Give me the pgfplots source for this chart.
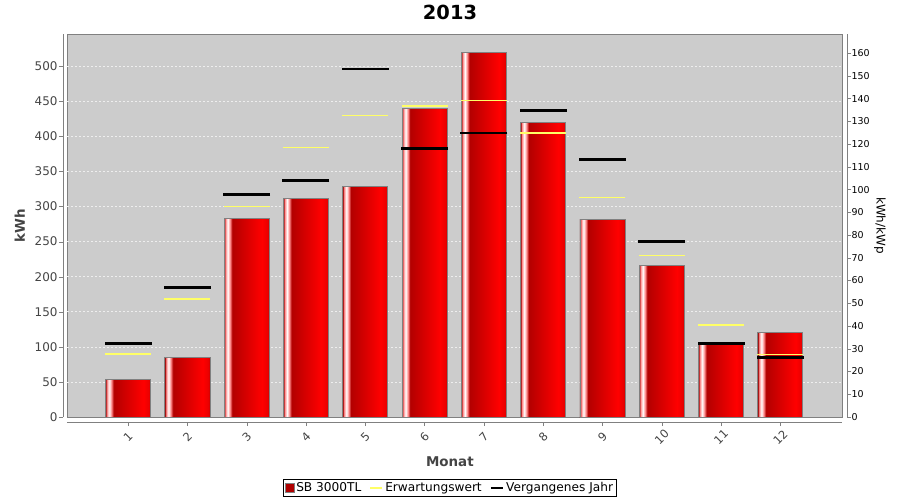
\documentclass[border=0pt]{standalone}
\usepackage{fontspec}
\setmainfont{DejaVu Sans}
\usepackage{pgfplots}
\pgfplotsset{compat=1.18}

\definecolor{plotbg}{RGB}{204,204,204}
\definecolor{framegray}{RGB}{128,128,128}
\definecolor{labelgray}{RGB}{68,68,68}
\definecolor{gridline}{RGB}{238,238,238}
\definecolor{barred}{RGB}{176,0,0}
\definecolor{expyellow}{RGB}{255,255,102}

% the visible part of a tikz shading is the middle 25bp..75bp
\pgfdeclarehorizontalshading{barshade}{100bp}{%
  color(0bp)=(red!60!black);
  color(25bp)=(red!60!black);
  color(26.5bp)=(red!45!white);
  color(29bp)=(white);
  color(31.5bp)=(red!45!white);
  color(34bp)=(red!70!black);
  color(67bp)=(red);
  color(73bp)=(red!92!black);
  color(75bp)=(red!80!black);
  color(100bp)=(red!80!black)}

\pgfplotsset{
  onebar/.style={ybar, bar width=0.76, draw=framegray, line width=0.8bp, shading=barshade, forget plot},
}

\begin{document}
\begin{tikzpicture}
\begin{axis}[
    at={(0,0)}, anchor=south west,
    scale only axis,
    width=775bp, height=383bp,
    xmin=-0.03, xmax=13.04,
    ymin=0, ymax=546,
    axis x line*=bottom,
    axis y line*=left,
    axis background/.style={fill=plotbg, draw=framegray},
    x axis line style={framegray, yshift=-5bp},
    y axis line style={framegray, xshift=-4bp},
    xtick style={framegray, yshift=-5bp},
    ytick style={framegray, xshift=-4bp},
    tick align=outside,
    major tick length=4bp,
    xtick={1,...,12},
    ytick={50,100,...,500},
    extra y ticks={0},
    extra y tick style={grid=none},
    ymajorgrids,
    grid style={gridline, dash pattern=on 2bp off 2bp, line width=0.6bp},
    /pgf/number format/assume math mode=true,
    yticklabel style={font=\fontsize{12}{14}\selectfont, text=labelgray, xshift=-2bp},
    xticklabel style={font=\fontsize{11.5}{13}\selectfont, text=labelgray, anchor=center, yshift=-16bp, rotate=45},
    xlabel={Monat},
    ylabel={kWh},
    xlabel style={font=\bfseries\fontsize{13.5}{16}\selectfont, text=labelgray, at={(axis description cs:0.494,-0.1175)}, anchor=center},
    ylabel style={font=\bfseries\fontsize{13.5}{16}\selectfont, text=labelgray, at={(axis description cs:-0.061,0.5)}, anchor=center},
    legend columns=3,
    legend style={at={(axis description cs:0.494,-0.185)}, anchor=center, draw=black, line width=0.8bp,
        font=\fontsize{12.2}{14}\selectfont, inner sep=1.5bp,
        /tikz/every even column/.append style={column sep=6bp}},
]
% SB 3000TL, one bar per month so that each bar gets its own shading
\addplot[onebar] coordinates {(1,54)};
\addplot[onebar] coordinates {(2,85)};
\addplot[onebar] coordinates {(3,283)};
\addplot[onebar] coordinates {(4,312)};
\addplot[onebar] coordinates {(5,329)};
\addplot[onebar] coordinates {(6,440)};
\addplot[onebar] coordinates {(7,520)};
\addplot[onebar] coordinates {(8,420)};
\addplot[onebar] coordinates {(9,282)};
\addplot[onebar] coordinates {(10,216)};
\addplot[onebar] coordinates {(11,105)};
\addplot[onebar] coordinates {(12,121)};
\addlegendimage{legend image code/.code={\draw[draw=framegray, fill=barred, line width=0.6bp] (0bp,-4.5bp) rectangle (9bp,4.5bp);}}
\addlegendentry{SB 3000TL}
\addplot[only marks, mark=-, mark size=23bp, mark options={expyellow, line width=1.5bp},
    legend image code/.code={\draw[expyellow, line width=2bp] (0bp,0bp) -- (12bp,0bp);}]
    coordinates {(1,90) (2,168) (3,300) (4,384) (5,430) (6,443) (7,451) (8,405) (9,313) (10,230) (11,131) (12,89)};
\addlegendentry{Erwartungswert}
\addplot[only marks, mark=-, mark size=23.5bp, mark options={black, line width=2.6bp},
    legend image code/.code={\draw[black, line width=2.5bp] (0bp,0bp) -- (12bp,0bp);}]
    coordinates {(1,105) (2,185) (3,317) (4,337) (5,496) (6,383) (7,405) (8,437) (9,367) (10,250) (11,105) (12,85)};
\addlegendentry{Vergangenes Jahr}
\end{axis}
\begin{axis}[
    at={(0,0)}, anchor=south west,
    scale only axis,
    width=775bp, height=383bp,
    xmin=-0.03, xmax=13.04,
    ymin=0, ymax=168.4,
    axis x line=none,
    axis y line*=right,
    y axis line style={framegray, xshift=5bp},
    ytick style={framegray, xshift=5bp},
    tick align=outside,
    major tick length=4bp,
    ytick={0,10,...,160},
    /pgf/number format/assume math mode=true,
    yticklabel style={font=\fontsize{9.5}{11}\selectfont, text=black, xshift=2bp},
    ylabel={kWh/kWp},
    ylabel style={font=\fontsize{12}{14}\selectfont, at={(axis description cs:1.049,0.5)}, anchor=center, rotate=180},
]
\end{axis}
\node[font=\bfseries\fontsize{19.5}{22}\selectfont] at (383bp,405bp) {2013};
\path[use as bounding box] (-67bp,-83bp) rectangle (833bp,417bp);
\end{tikzpicture}
\end{document}
